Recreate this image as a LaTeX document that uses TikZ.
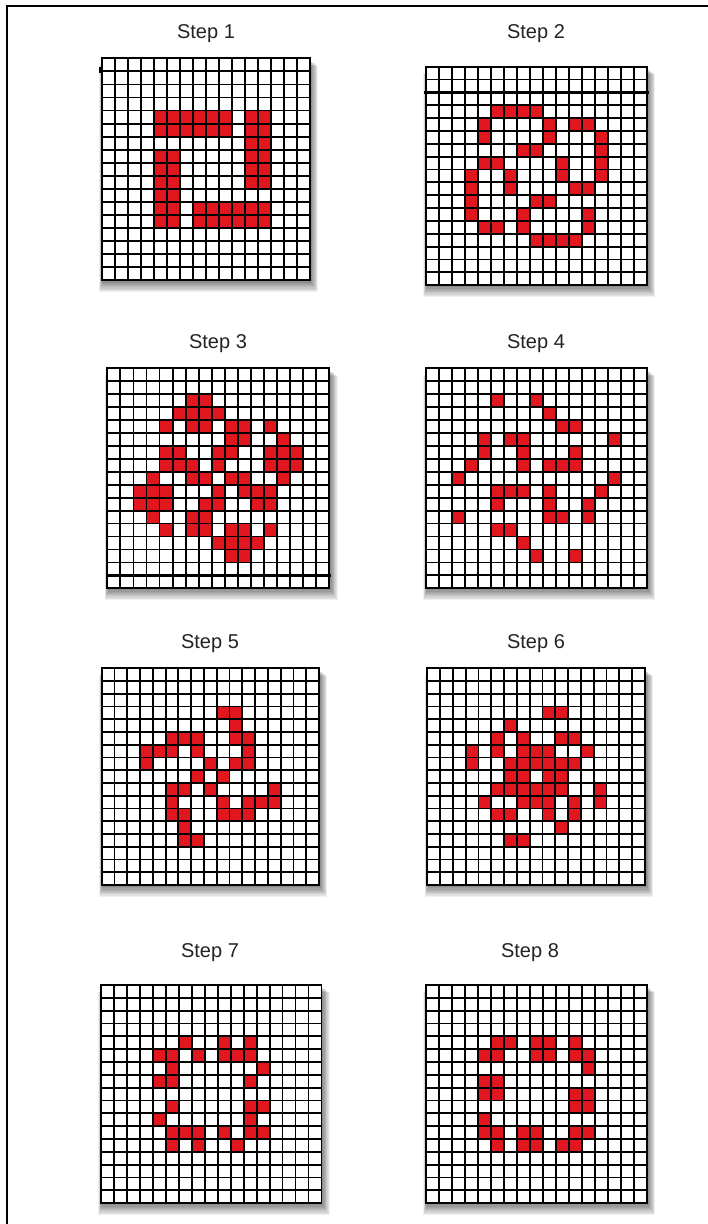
\documentclass[tikz,border=0pt]{standalone}
\usepackage{fontspec}
\setmainfont{Liberation Sans}
\definecolor{cellred}{RGB}{226,22,30}
\definecolor{labelgray}{RGB}{35,35,35}
\tikzset{
  gridline/.style={line width=1.8pt, black, line cap=rect},
  thickline/.style={line width=3.4pt, black, line cap=rect},
  steplabel/.style={font=\fontsize{20}{24}\selectfont, text=labelgray, inner sep=0pt},
  frameline/.style={line width=1.6pt, black}
}
% #1 x0, #2 y0, #3 cols, #4 rows, #5 cell w, #6 cell h, #7 generator cells (4-fold), #8 extra
\newcommand\panelgrid[8]{%
 \begin{scope}[shift={(#1,#2)}]
  \pgfmathsetmacro\pW{#3*#5}
  \pgfmathsetmacro\pH{#4*#6}
  \foreach \k in {0,...,9}{\fill[black,opacity=0.06] ({1-0.4*\k},{2+0.6*\k}) rectangle ({\pW+1+0.8*\k},{\pH+1+1.2*\k});}
  \fill[white] (0,0) rectangle (\pW,\pH);
  \foreach \cc/\rr in {#7}{%
    \fill[cellred] ({\cc*#5},{\rr*#6}) rectangle ++(#5,#6);
    \fill[cellred] ({(16-\rr)*#5},{\cc*#6}) rectangle ++(#5,#6);
    \fill[cellred] ({(16-\cc)*#5},{(16-\rr)*#6}) rectangle ++(#5,#6);
    \fill[cellred] ({\rr*#5},{(16-\cc)*#6}) rectangle ++(#5,#6);
  }
  \foreach \i in {0,...,#3}{\draw[gridline] ({\i*#5},0) -- ({\i*#5},\pH);}
  \foreach \j in {0,...,#4}{\draw[gridline] (0,{\j*#6}) -- (\pW,{\j*#6});}
  #8
 \end{scope}}
\begin{document}
\begin{tikzpicture}[x=1pt,y=-1pt]
\useasboundingbox (0,0) rectangle (708,1224);
\fill[white] (0,0) rectangle (708,1224);
% frame
\draw[frameline] (7,1224) -- (7,6) -- (708,6);

% Step 1
\panelgrid{101.7}{58.3}{16}{17}{13.0}{13.06}{4/4,5/4,6/4,7/4,8/4,9/4,4/5,5/5,6/5,7/5,8/5,9/5}{\fill[black] (-2.5,9) rectangle (0,15);}
% Step 2
\panelgrid{426}{66.7}{17}{17}{13.0}{12.85}{5/3,6/3,7/3,8/3,4/4,4/5,9/4,9/5,7/6,8/6}{\draw[thickline] (0,25.7) -- (221,25.7);}
% Step 3
\panelgrid{107.3}{368.3}{17}{17}{13.06}{12.94}{6/2,7/2,5/3,6/3,7/3,8/3,4/4,6/4,7/4,9/4,10/4,9/5,10/5,8/6,6/7,7/8}{\draw[thickline] (0,207) -- (222,207);}
% Step 4
\panelgrid{426}{368.3}{17}{17}{13.0}{12.94}{5/2,8/2,9/3,10/4,11/4,6/5,7/5,7/6,7/7}{}
% Step 5
\panelgrid{101.7}{668.3}{17}{17}{12.78}{12.75}{9/3,10/3,10/4,10/5,5/5,6/5,7/5,7/6,8/7}{}
% Step 6
\panelgrid{427.3}{668.3}{17}{17}{12.8}{12.75}{9/3,10/3,6/4,5/5,7/5,10/5,8/6,7/6,9/6,8/7,7/7}{}
% Step 7
\panelgrid{101}{985}{17}{17}{12.97}{12.83}{6/4,9/4,5/5,7/5,9/5,10/5,4/5}{}
% Step 8
\panelgrid{426}{985}{17}{17}{13.0}{12.83}{5/4,6/4,8/4,9/4,8/5,9/5,11/4,11/5}{}

% labels
\node[steplabel] (s1) at (206,34) {Step 1};
\node[steplabel] (s2) at (536,34) {Step 2};
\node[steplabel] (s3) at (218,344) {Step 3};
\node[steplabel] (s4) at (536,344) {Step 4};
\node[steplabel] (s5) at (210,644) {Step 5};
\node[steplabel] (s6) at (536,644) {Step 6};
\node[steplabel] (s7) at (210,953) {Step 7};
\node[steplabel] (s8) at (530,953) {Step 8};
\end{tikzpicture}
\end{document}
